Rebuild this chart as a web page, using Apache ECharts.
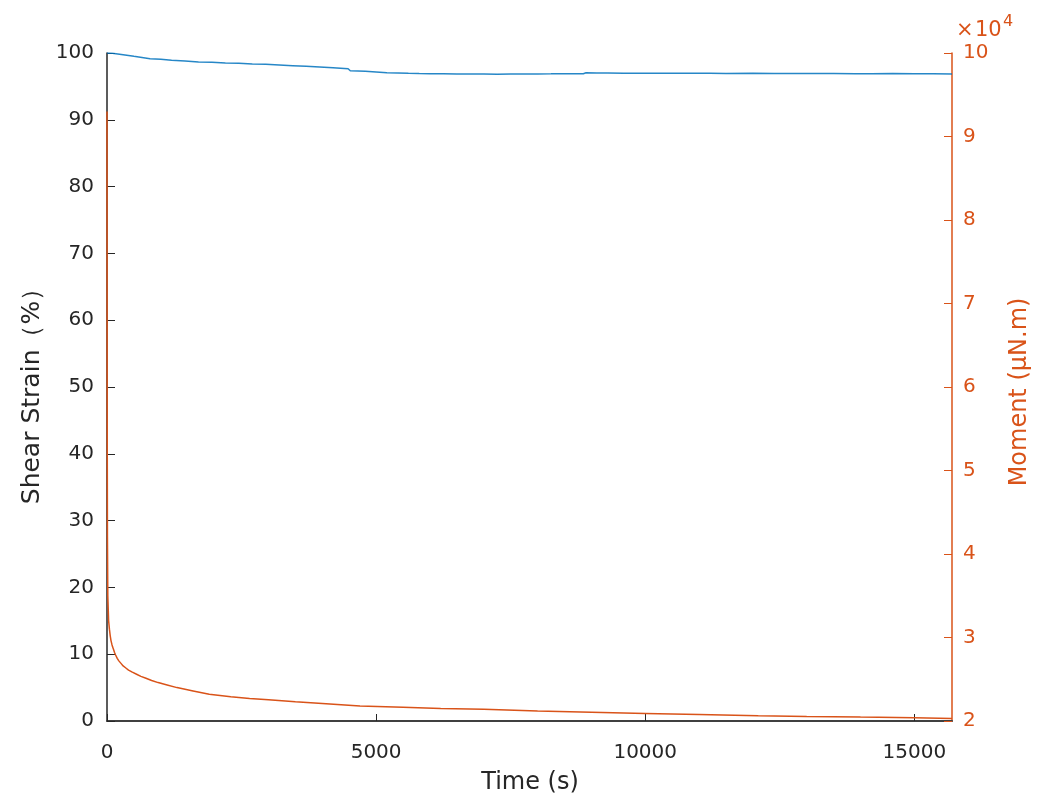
<!DOCTYPE html>
<html>
<head>
<meta charset="utf-8">
<script src="https://cdn.jsdelivr.net/npm/echarts@6/dist/echarts.min.js"></script>
<style>
html,body{margin:0;padding:0;background:#fff;}
#chart{width:1041px;height:807px;}
</style>
</head>
<body>
<div id="chart"></div>
<script>
// Shear strain (%) vs time (s)
var strainTime = [0, 100, 300, 500, 800, 1000, 1200, 1450, 1700, 1950, 2200, 2450, 2700, 2950, 3200, 3450, 3700, 3950, 4200, 4480, 4520, 4800, 5000, 5200, 5400, 5600, 5800, 6000, 6250, 6500, 6750, 7000, 7250, 7500, 7750, 8000, 8250, 8500, 8850, 8900, 9100, 9300, 9600, 10000, 10400, 10800, 11200, 11500, 12000, 12400, 12800, 13200, 13500, 13900, 14200, 14600, 15000, 15350, 15700];
var strainVal  = [100, 99.95, 99.75, 99.5, 99.15, 99.05, 98.9, 98.8, 98.65, 98.6, 98.5, 98.45, 98.35, 98.3, 98.2, 98.1, 98.0, 97.9, 97.8, 97.65, 97.35, 97.25, 97.15, 97.05, 97.0, 96.95, 96.92, 96.9, 96.88, 96.85, 96.86, 96.85, 96.83, 96.85, 96.86, 96.87, 96.88, 96.9, 96.9, 97.05, 97.02, 97.0, 96.98, 96.97, 96.95, 96.95, 96.96, 96.93, 96.95, 96.92, 96.94, 96.92, 96.93, 96.91, 96.9, 96.92, 96.9, 96.88, 96.87];
// Moment (x10^4 uN.m) vs time (s)
var momentTime = [0, 3, 8, 15, 30, 45, 60, 75, 90, 105, 125, 140, 160, 190, 220, 260, 300, 350, 400, 470, 550, 630, 712, 830, 950, 1100, 1300, 1600, 1900, 2300, 2650, 3000, 3500, 4000, 4700, 5500, 6200, 7000, 8000, 9000, 10000, 11000, 12100, 13000, 14000, 15000, 15700];
var momentVal  = [9.3, 6.0, 4.2, 3.5, 3.2, 3.1, 3.02, 2.96, 2.92, 2.885, 2.85, 2.82, 2.79, 2.75, 2.72, 2.69, 2.66, 2.635, 2.61, 2.585, 2.56, 2.535, 2.515, 2.485, 2.46, 2.435, 2.40, 2.36, 2.32, 2.29, 2.27, 2.255, 2.23, 2.21, 2.18, 2.165, 2.15, 2.14, 2.12, 2.105, 2.09, 2.077, 2.063, 2.055, 2.047, 2.04, 2.03];
var xTicks = [0, 5000, 10000, 15000];

var blue = '#0072BD', orange = '#D95319', dark = '#262626';
var FONT = 'DejaVu Sans';

function pairs(t, v){ return t.map(function(x,i){ return [x, v[i]]; }); }

var chart = echarts.init(document.getElementById('chart'));
chart.setOption({
  animation: false,
  backgroundColor: '#fff',
  grid: {left: 107, right: 89, top: 53, bottom: 86, containLabel: false},
  xAxis: {
    type: 'value', min: 0, max: 15700, interval: 5000,
    axisLine: {show: true, onZero: false, lineStyle: {color: '#404040', width: 2}},
    axisTick: {show: true, inside: true, length: 7, lineStyle: {color: dark, width: 1}},
    axisLabel: {color: dark, fontFamily: FONT, fontSize: 20, margin: 22, showMaxLabel: false,
      formatter: function(v){ return xTicks.indexOf(v) >= 0 ? String(v) : ''; }},
    splitLine: {show: false}
  },
  yAxis: [
    {
      type: 'value', min: 0, max: 100, interval: 10, position: 'left',
      axisLine: {show: true, lineStyle: {color: dark, width: 1.5}},
      axisTick: {show: true, inside: true, length: 8, lineStyle: {color: dark, width: 1}},
      axisLabel: {color: dark, fontFamily: FONT, fontSize: 20, margin: 13},
      splitLine: {show: false}
    },
    {
      type: 'value', min: 2, max: 10, interval: 1, position: 'right',
      axisLine: {show: true, lineStyle: {color: orange, width: 1.5}},
      axisTick: {show: true, inside: true, length: 8, lineStyle: {color: orange, width: 1}},
      axisLabel: {color: orange, fontFamily: FONT, fontSize: 20, margin: 11},
      splitLine: {show: false}
    }
  ],
  series: [
    {type: 'line', yAxisIndex: 0, data: pairs(strainTime, strainVal), showSymbol: false,
     lineStyle: {color: blue, width: 1.5, opacity: 0.85}, z: 3},
    {type: 'line', yAxisIndex: 1, data: pairs(momentTime, momentVal), showSymbol: false,
     lineStyle: {color: orange, width: 1.5}, z: 4}
  ],
  graphic: [
    {type: 'text', x: 530, y: 783, style: {text: 'Time (s)', font: '24px "DejaVu Sans"', fill: dark, textAlign: 'center', textVerticalAlign: 'middle'}},
    {type: 'text', x: 32, y: 390, rotation: Math.PI/2, style: {text: 'Shear Strain（%）', font: '25px "DejaVu Sans"', fill: dark, textAlign: 'center', textVerticalAlign: 'middle'}},
    {type: 'text', x: 1020, y: 392, rotation: Math.PI/2, style: {text: 'Moment (μN.m)', font: '24px "DejaVu Sans"', fill: orange, textAlign: 'center', textVerticalAlign: 'middle'}},
    {type: 'text', x: 956, y: 31, style: {text: '×', font: '21px "DejaVu Sans"', fill: orange, textAlign: 'left', textVerticalAlign: 'middle'}},
    {type: 'text', x: 975, y: 31, style: {text: '10', font: '21px "DejaVu Sans"', fill: orange, textAlign: 'left', textVerticalAlign: 'middle'}},
    {type: 'text', x: 1003, y: 22, style: {text: '4', font: '16px "DejaVu Sans"', fill: orange, textAlign: 'left', textVerticalAlign: 'middle'}}
  ]
});
</script>
</body>
</html>
